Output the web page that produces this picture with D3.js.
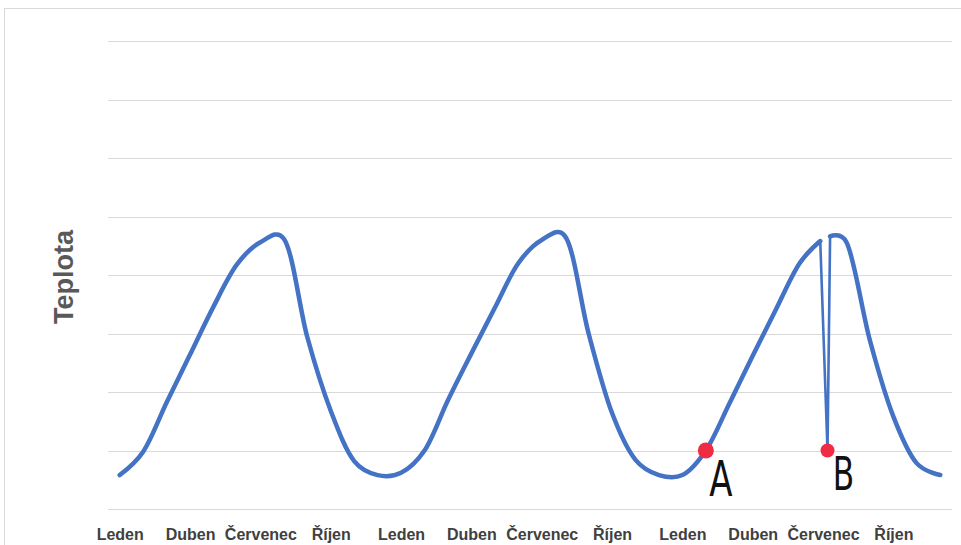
<!DOCTYPE html>
<html>
<head>
<meta charset="utf-8">
<script src="https://cdn.jsdelivr.net/npm/d3@7"></script>
<style>
  html, body { margin: 0; padding: 0; background: #fff; }
  svg { display: block; }
</style>
</head>
<body>
<svg id="chart" width="961" height="545"></svg>
<script>
// ---- data ----
const tickLabels = ["Leden","Duben","Červenec","Říjen","Leden","Duben","Červenec","Říjen","Leden","Duben","Červenec","Říjen"];
const tickMonths = [0,3,6,9,12,15,18,21,24,27,30,33];
const months = d3.range(36);
// monthly temperature (arbitrary units); index 30 replaced by the spike
const values = [
  2.9, 4.9, 9.1, 13.2, 17.3, 20.9, 22.8, 23.1, 14.7, 8.4, 4.1, 2.9,
  3.1, 5.0, 9.3, 13.3, 17.2, 21.0, 23.0, 23.3, 15.0, 8.2, 4.2, 2.9,
  2.9, 5.0, 9.0, 13.1, 17.1, 21.0, null, 22.8, 14.4, 7.9, 3.9, 2.9
];
const spikeMonths = [29.88, 30.19, 30.30];
const spikeValues = [22.9, 5.0, 23.3];
const markerLabels = ["A", "B"];
const markerMonths = [25, 30.19];
const markerValues = [5.0, 5.0];
const yTicks = [0,5,10,15,20,25,30,35,40];
const yTitle = "Teplota";

// ---- scales ----
const svg = d3.select("#chart");
const x = d3.scaleLinear().domain([-0.5, 35.5]).range([108, 952]);
const y = d3.scaleLinear().domain([0, 40]).range([509, 41]);

// frame
svg.append("rect").attr("x", 4.5).attr("y", 8.5).attr("width", 980).attr("height", 580)
  .attr("fill", "none").attr("stroke", "#d9d9d9").attr("stroke-width", 1);

// gridlines
svg.append("g").selectAll("line").data(yTicks).join("line")
  .attr("x1", x.range()[0]).attr("x2", x.range()[1])
  .attr("y1", d => Math.round(y(d)) + 0.5).attr("y2", d => Math.round(y(d)) + 0.5)
  .attr("stroke", "#d9d9d9").attr("stroke-width", 1);

// x axis labels
const xAxis = d3.axisBottom(x).tickValues(tickMonths)
  .tickFormat((d, i) => tickLabels[i]).tickSize(0).tickPadding(0);
const gx = svg.append("g").attr("transform", "translate(0,526)").call(xAxis);
gx.select(".domain").remove();
gx.selectAll("text")
  .attr("font-family", "'Liberation Sans', Arial, sans-serif")
  .attr("font-weight", "bold").attr("font-size", 16).attr("fill", "#404040")
  .attr("dy", "0.9em");

// y title
svg.append("text")
  .attr("transform", "translate(73,277) rotate(-90)")
  .attr("text-anchor", "middle")
  .attr("font-family", "'Liberation Sans', Arial, sans-serif")
  .attr("font-weight", "bold").attr("font-size", 27).attr("fill", "#595959")
  .text(yTitle);

// ---- series ----
const pts = months.map(m => ({m, v: values[m]})).filter(d => d.v !== null);
const seg1 = pts.filter(d => d.m < 30).concat([{m: spikeMonths[0], v: spikeValues[0]}]);
const seg2 = [{m: spikeMonths[2], v: spikeValues[2]}].concat(pts.filter(d => d.m > 30));
const spike = spikeMonths.map((m, i) => ({m, v: spikeValues[i]}));

const line = d3.line().x(d => x(d.m)).y(d => y(d.v)).curve(d3.curveCatmullRom.alpha(0.2));
const lineLin = d3.line().x(d => x(d.m)).y(d => y(d.v));

svg.append("g").selectAll("path").data([seg1, seg2]).join("path")
  .attr("d", line).attr("fill", "none").attr("stroke", "#4472c4")
  .attr("stroke-width", 4.5).attr("stroke-linecap", "round").attr("stroke-linejoin", "round");

svg.append("path").datum(spike).attr("d", lineLin)
  .attr("fill", "none").attr("stroke", "#4472c4").attr("stroke-width", 2.6)
  .attr("stroke-linejoin", "round").attr("stroke-linecap", "round");

// markers
const markers = markerLabels.map((t, i) => ({t, m: markerMonths[i], v: markerValues[i]}));
svg.append("g").selectAll("circle").data(markers).join("circle")
  .attr("cx", d => x(d.m)).attr("cy", d => y(d.v)).attr("r", (d, i) => i === 0 ? 8 : 7)
  .attr("fill", "#f02c44");
svg.append("g").selectAll("text").data(markers).join("text")
  .attr("transform", (d, i) => `translate(${x(d.m) + (i === 0 ? 15 : 16)},${i === 0 ? 496 : 490}) scale(0.68,1)`)
  .attr("text-anchor", "middle")
  .attr("font-family", "'DejaVu Sans', sans-serif")
  .attr("font-weight", "normal")
  .attr("font-size", (d, i) => i === 0 ? 50 : 46)
  .attr("fill", "#111")
  .text(d => d.t);
</script>
</body>
</html>
